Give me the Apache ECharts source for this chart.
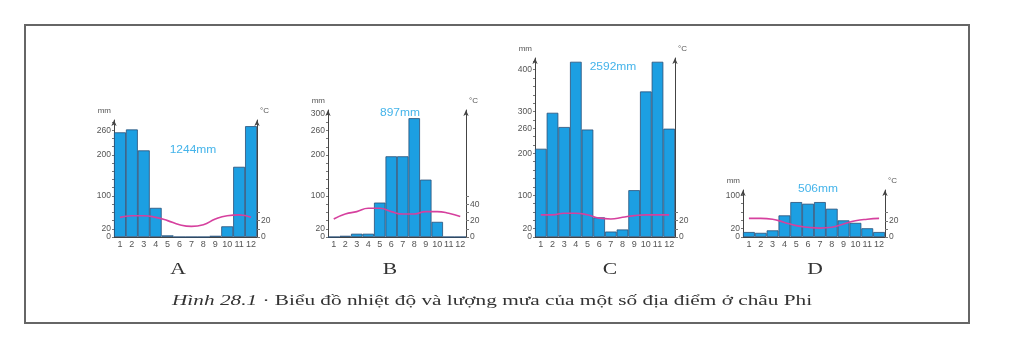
<!DOCTYPE html>
<html>
<head>
<meta charset="utf-8">
<script src="https://cdn.jsdelivr.net/npm/echarts@6/dist/echarts.min.js"></script>
<style>
  html, body { margin: 0; padding: 0; background: #fff; }
  #main { width: 1024px; height: 354px; }
</style>
</head>
<body>
<div id="main"></div>
<script>
var months = ['1', '2', '3', '4', '5', '6', '7', '8', '9', '10', '11', '12'];

// lượng mưa (mm)
var rainA = [255, 262, 211, 71, 4, 0, 0, 0, 3, 26, 171, 270];
var rainB = [0, 3, 8, 8, 84, 197, 197, 290, 140, 37, 0, 0];
var rainC = [211, 297, 263, 419, 257, 47, 13, 18, 112, 348, 419, 259];
var rainD = [12, 10, 16, 52, 84, 80, 84, 68, 40, 34, 21, 12];

// nhiệt độ (°C)
var tempA = [24, 26, 26, 24, 20, 15, 13, 15, 22, 26, 27, 24];
var tempB = [22, 28, 31, 35, 35, 31, 28, 28, 31, 31, 29, 25];
var tempC = [27, 27, 29, 29, 27, 23, 22, 24, 26, 27, 27, 27];
var tempD = [23, 23, 22, 18, 14, 12, 11, 12, 16, 20, 22, 23];

var totals = ['1244mm', '897mm', '2592mm', '506mm'];
var letters = ['A', 'B', 'C', 'D'];

// nhãn trục (số 0 vẽ riêng trên một trục phụ để không bị ẩn)
var rainLabelsA = [20, 100, 200, 260];
var rainLabelsB = [20, 100, 200, 260, 300];
var rainLabelsC = [20, 100, 200, 260, 300, 400];
var rainLabelsD = [20, 100];
var tempLabelsA = [0, 20];
var tempLabelsB = [0, 20, 40];
var tempLabelsC = [0, 20];
var tempLabelsD = [0, 20];

var panels = [
  { rain: rainA, temp: tempA, rl: rainLabelsA, tl: tempLabelsA, left: 114, width: 143, top: 120, rmax: 285, tmax: 143, total: [193, 150], letter: 178 },
  { rain: rainB, temp: tempB, rl: rainLabelsB, tl: tempLabelsB, left: 328, width: 138, top: 110, rmax: 310, tmax: 155, total: [400, 113], letter: 390 },
  { rain: rainC, temp: tempC, rl: rainLabelsC, tl: tempLabelsC, left: 535, width: 140, top: 58, rmax: 428, tmax: 218, total: [613, 67], letter: 610 },
  { rain: rainD, temp: tempD, rl: rainLabelsD, tl: tempLabelsD, left: 743, width: 142, top: 190, rmax: 113, tmax: 58, total: [818, 189], letter: 815 }
];

function ticks(max, step) {
  var out = [];
  for (var v = 0; v <= max; v += step) out.push(v);
  return out;
}

var grid = [], xAxis = [], yAxis = [], series = [], graphic = [];
var axisColor = '#444';
var labelStyle = { fontSize: 9, color: '#555', fontFamily: 'Arial, sans-serif' };
var yLabelStyle = { fontSize: 8.5, color: '#555', fontFamily: 'Arial, sans-serif', showMinLabel: true, showMaxLabel: true };

panels.forEach(function (p, i) {
  grid.push({ left: p.left, width: p.width, top: p.top, bottom: 117 });
  xAxis.push({
    type: 'category', gridIndex: i, data: months,
    axisLine: { lineStyle: { color: axisColor, width: 1 } },
    axisTick: { show: false },
    axisLabel: Object.assign({ margin: 3, interval: 0 }, labelStyle)
  });
  yAxis.push({
    type: 'value', gridIndex: i, min: 0, max: p.rmax, position: 'left',
    name: 'mm', nameLocation: 'end', nameGap: 5,
    nameTextStyle: { fontSize: 8, color: '#555', align: 'right', padding: [0, 3, 0, 0] },
    splitLine: { show: false },
    axisLine: { show: true, symbol: ['none', 'arrow'], symbolSize: [4, 6], lineStyle: { color: axisColor, width: 1 } },
    axisTick: { show: true, length: 2, customValues: ticks(p.rmax, 20), lineStyle: { color: '#777' } },
    axisLabel: Object.assign({ margin: 3, customValues: p.rl }, yLabelStyle)
  });
  yAxis.push({
    type: 'value', gridIndex: i, min: 0, max: p.tmax, position: 'right',
    name: '°C', nameLocation: 'end', nameGap: 5,
    nameTextStyle: { fontSize: 8, color: '#555', align: 'left', padding: [0, 0, 0, 3] },
    splitLine: { show: false },
    axisLine: { show: true, symbol: ['none', 'arrow'], symbolSize: [4, 6], lineStyle: { color: axisColor, width: 1 } },
    axisTick: { show: true, length: 3, customValues: ticks(p.tl[p.tl.length - 1] + 10, 10), lineStyle: { color: '#777' } },
    axisLabel: Object.assign({ margin: 4, customValues: p.tl }, yLabelStyle)
  });
  yAxis.push({
    type: 'value', gridIndex: i, min: 0, max: p.rmax, position: 'left',
    splitLine: { show: false }, axisLine: { show: false }, axisTick: { show: false },
    axisLabel: Object.assign({ margin: 3, customValues: [0] }, yLabelStyle)
  });
  series.push({
    type: 'bar', xAxisIndex: i, yAxisIndex: i * 3, data: p.rain,
    barCategoryGap: 0,
    itemStyle: { color: '#1c9fe2', borderColor: '#2a4f77', borderWidth: 0.8 }
  });
  series.push({
    type: 'line', xAxisIndex: i, yAxisIndex: i * 3 + 1, data: p.temp,
    smooth: true, showSymbol: false, z: 5,
    lineStyle: { color: '#d6409e', width: 1.6 }
  });
  graphic.push({
    type: 'text', x: p.total[0], y: p.total[1], scaleX: 1.2, z: 10,
    style: { text: totals[i], fontSize: 10, fill: '#45b4ea', fontFamily: 'Arial, sans-serif', align: 'center', verticalAlign: 'middle' }
  });
  graphic.push({
    type: 'text', x: p.letter, y: 270, scaleX: 1.35, z: 10,
    style: { text: letters[i], fontSize: 16, fill: '#333', fontFamily: 'Liberation Serif, serif', align: 'center', verticalAlign: 'middle' }
  });
});

graphic.push({
  type: 'rect', z: 0,
  shape: { x: 25, y: 25, width: 944, height: 298 },
  style: { fill: 'none', stroke: '#666', lineWidth: 2 }
});
graphic.push({
  type: 'text', x: 172, y: 301, scaleX: 1.52, z: 10,
  style: {
    text: '{i|Hình 28.1} · Biểu đồ nhiệt độ và lượng mưa của một số địa điểm ở châu Phi',
    fontSize: 14, fill: '#333', fontFamily: 'Liberation Serif, serif', verticalAlign: 'middle',
    rich: { i: { fontStyle: 'italic', fontSize: 14, fill: '#333', fontFamily: 'Liberation Serif, serif' } }
  }
});

var chart = echarts.init(document.getElementById('main'), null, { renderer: 'canvas' });
chart.setOption({
  backgroundColor: '#fff',
  animation: false,
  grid: grid,
  xAxis: xAxis,
  yAxis: yAxis,
  series: series,
  graphic: graphic
});
</script>
</body>
</html>
